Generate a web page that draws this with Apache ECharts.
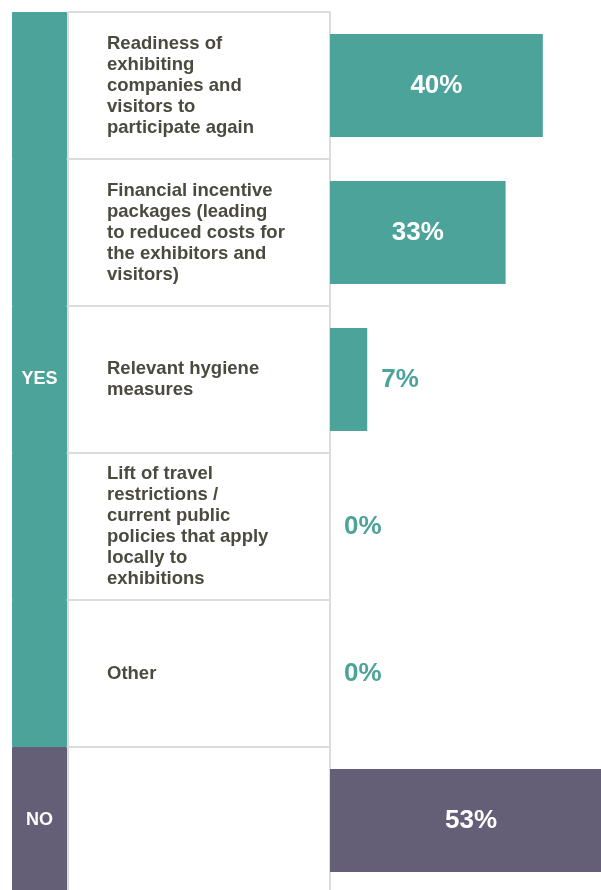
<!DOCTYPE html>
<html>
<head>
<meta charset="utf-8">
<script src="https://cdn.jsdelivr.net/npm/echarts@6/dist/echarts.min.js"></script>
<style>
html,body{margin:0;padding:0;background:#fff;}
#chart{width:601px;height:890px;}
</style>
</head>
<body>
<div id="chart"></div>
<script>
// ---- data ----
var categories = [
  'Readiness of\nexhibiting\ncompanies and\nvisitors to\nparticipate again',
  'Financial incentive\npackages (leading\nto reduced costs for\nthe exhibitors and\nvisitors)',
  'Relevant hygiene\nmeasures',
  'Lift of travel\nrestrictions /\ncurrent public\npolicies that apply\nlocally to\nexhibitions',
  'Other',
  ''
];
var values = [40, 33, 7, 0, 0, 53];
var groups = ['YES', 'YES', 'YES', 'YES', 'YES', 'NO'];
var groupLabelRows = [2, 5];

// ---- styling ----
var TEAL = '#4ba39a';
var PURPLE = '#645e76';
var TEXT = '#4b4a3f';
var BORDER = '#dcdcdc';
var FONT = '"Liberation Sans", Arial, Helvetica, sans-serif';
var TOP = 12, HEIGHT = 882;

var chart = echarts.init(document.getElementById('chart'));

var barData = values.map(function (v, i) {
  var color = groups[i] === 'YES' ? TEAL : PURPLE;
  var inside = v >= 10;
  return {
    value: v,
    itemStyle: { color: color },
    label: {
      show: true,
      position: inside ? 'inside' : 'right',
      distance: 14,
      color: inside ? '#ffffff' : color,
      fontSize: 26,
      fontWeight: 'bold',
      fontFamily: FONT,
      formatter: '{c}%'
    }
  };
});

var bandData = groups.map(function (g, i) {
  var c = g === 'YES' ? TEAL : PURPLE;
  return {
    value: 1,
    itemStyle: { color: c, borderColor: c, borderWidth: 1 },
    label: {
      show: groupLabelRows.indexOf(i) >= 0,
      position: 'inside',
      color: '#ffffff',
      fontSize: 18,
      fontWeight: 'bold',
      fontFamily: FONT,
      formatter: g
    }
  };
});

chart.setOption({
  animation: false,
  backgroundColor: '#ffffff',
  grid: [
    { left: 330, top: TOP, width: 282, height: HEIGHT, outerBoundsMode: 'none', containLabel: false },
    { left: 12, top: TOP, width: 55, height: HEIGHT, outerBoundsMode: 'none', containLabel: false }
  ],
  xAxis: [
    { gridIndex: 0, type: 'value', min: 0, max: 53, show: false },
    { gridIndex: 1, type: 'value', min: 0, max: 1, show: false }
  ],
  yAxis: [
    {
      gridIndex: 0, type: 'category', data: categories, inverse: true,
      axisLine: { show: true, lineStyle: { color: BORDER, width: 2 } },
      axisTick: { show: true, length: 262, lineStyle: { color: BORDER, width: 2 } },
      axisLabel: {
        align: 'left', margin: 223, color: TEXT, fontSize: 18.5,
        fontWeight: 'bold', fontFamily: FONT, lineHeight: 21
      },
      splitLine: { show: false }
    },
    {
      gridIndex: 0, type: 'category', data: categories, inverse: true,
      position: 'left', offset: 262,
      axisLine: { show: true, lineStyle: { color: BORDER, width: 2 } },
      axisTick: { show: false }, axisLabel: { show: false }, splitLine: { show: false }
    },
    {
      gridIndex: 1, type: 'category', data: groups.map(function (g, i) { return g + i; }),
      inverse: true, show: false
    }
  ],
  series: [
    {
      type: 'bar', xAxisIndex: 0, yAxisIndex: 0, data: barData,
      barWidth: 103, silent: true
    },
    {
      type: 'bar', xAxisIndex: 1, yAxisIndex: 2, data: bandData,
      barWidth: '100%', silent: true
    }
  ]
});
</script>
</body>
</html>
